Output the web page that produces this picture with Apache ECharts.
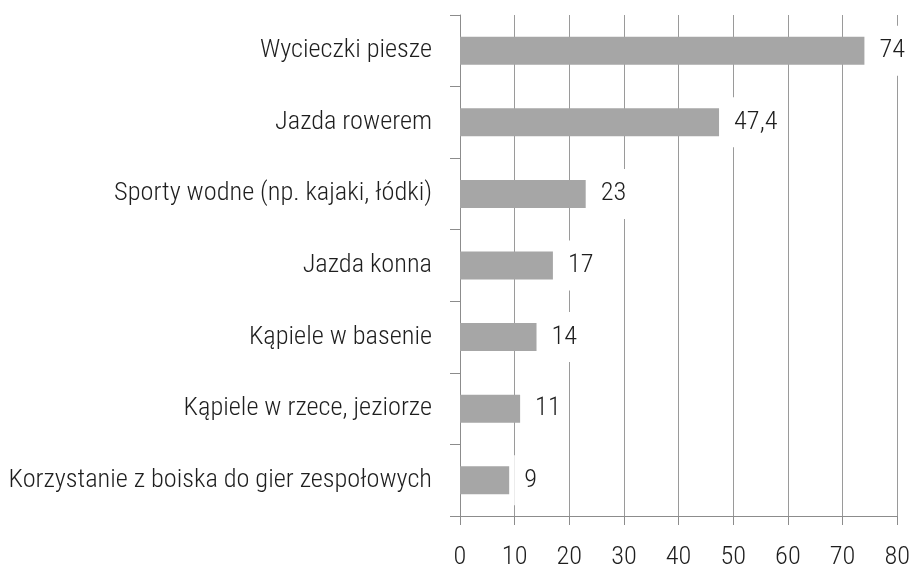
<!DOCTYPE html>
<html><head><meta charset="utf-8">
<script src="https://cdn.jsdelivr.net/npm/echarts@6/dist/echarts.min.js"></script>
<style>html,body{margin:0;padding:0;background:#fff}#c{width:913px;height:570px}</style>
</head><body><div id="c"></div>
<script>
const categories = ['Wycieczki piesze','Jazda rowerem','Sporty wodne (np. kajaki, łódki)','Jazda konna','Kąpiele w basenie','Kąpiele w rzece, jeziorze','Korzystanie z boiska do gier zespołowych'];
const values = [74, 47.4, 23, 17, 14, 11, 9];
const xTicks = [0,10,20,30,40,50,60,70,80];

const FONT = '"Roboto Condensed", Roboto, sans-serif';
const FS = 26.3;
const chart = echarts.init(document.getElementById('c'));
chart.setOption({
  animation:false,
  grid:{left:460,right:15,top:15,bottom:48,containLabel:false},
  xAxis:{type:'value',min:xTicks[0],max:xTicks[xTicks.length-1],interval:xTicks[1]-xTicks[0],
    axisLine:{show:true,lineStyle:{color:'#8c8c8c',width:1}},
    axisTick:{show:true,length:9,lineStyle:{color:'#8c8c8c'}},
    axisLabel:{margin:28,color:'#1e1e1e',fontFamily:FONT,fontWeight:300,fontSize:FS,formatter:v=>String(v)},
    splitLine:{show:true,lineStyle:{color:'#9a9a9a',width:1}}},
  yAxis:{type:'category',inverse:true,data:categories,
    axisLine:{show:true,lineStyle:{color:'#8c8c8c',width:1}},
    axisTick:{show:true,length:10,lineStyle:{color:'#8c8c8c'}},
    axisLabel:{margin:28,color:'#1e1e1e',fontFamily:FONT,fontWeight:300,fontSize:FS}},
  series:[{type:'bar',data:values,barWidth:28,
    itemStyle:{color:'#a6a6a6'},
    label:{show:true,position:'right',distance:5,color:'#1e1e1e',fontFamily:FONT,fontWeight:300,fontSize:FS,
      backgroundColor:'#fff',padding:[12,6,12,10],
      formatter:p=>String(p.value).replace('.',',')}}]
});
</script></body></html>
